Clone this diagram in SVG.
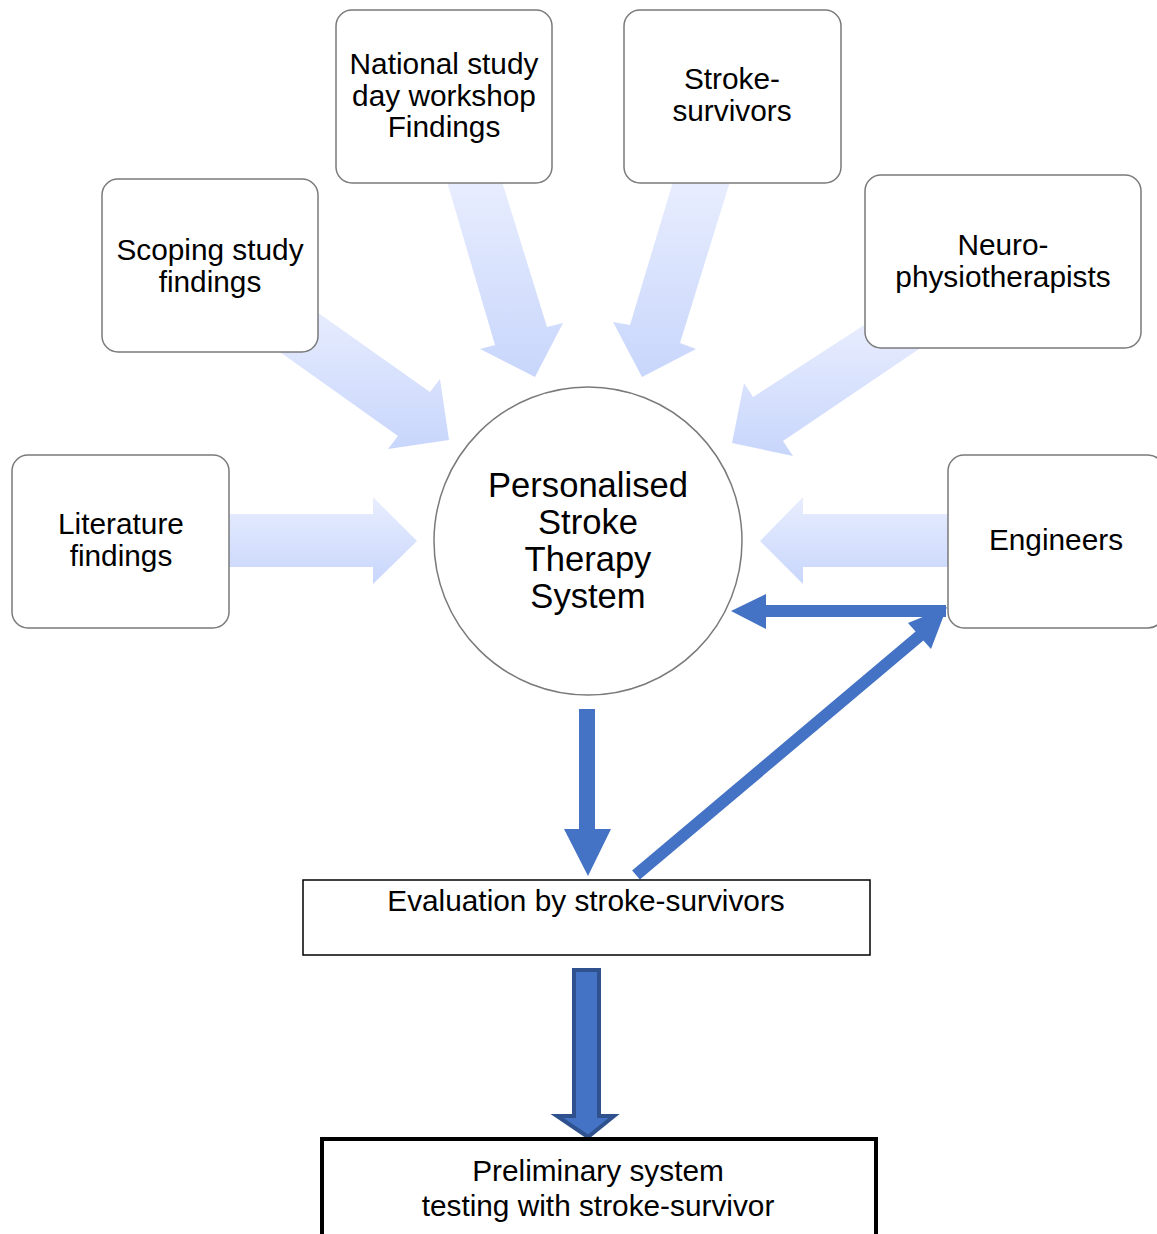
<svg xmlns="http://www.w3.org/2000/svg" width="1157" height="1234" viewBox="0 0 1157 1234">
  <style>
    .box { fill: #ffffff; stroke: #7a7a7a; stroke-width: 1.5; }
    .plain { fill: #ffffff; stroke: #000000; stroke-width: 1.5; }
    .thick { fill: #ffffff; stroke: #000000; stroke-width: 4; }
    .lbl { font-family: "Liberation Sans", Arial, sans-serif; font-size: 29.8px; fill: #000000; text-anchor: middle; }
    .big { font-size: 34.6px; }
    .soft { fill: url(#softBlue); }
    .blue { fill: #4472c4; }
  </style>
  <defs>
    <linearGradient id="softBlue" x1="0" y1="0" x2="0" y2="1">
      <stop offset="0" stop-color="#e9eefe"/>
      <stop offset="1" stop-color="#c8d6fc"/>
    </linearGradient>
  </defs>

  <!-- connectors -->
  <g id="connectors">
    <!-- Literature findings -> system -->
    <polygon class="soft" points="225,514 373,514 373,497 417,541 373,584 373,567 225,567"/>
    <!-- Engineers -> system -->
    <polygon class="soft" points="952,514 803,514 803,497 760,541 803,584 803,567 952,567"/>
    <!-- Scoping study -> system -->
    <polygon class="soft" points="300,300 430,392 440,379 449,440 388,449 398,436 270,345"/>
    <!-- National study day -> system -->
    <polygon class="soft" points="445,175 495,345 480,349 535,377 563,323 547,327 500,175"/>
    <!-- Stroke-survivors -> system -->
    <polygon class="soft" points="675,175 630,325 613,322 642,377 696,349 680,343 732,175"/>
    <!-- Neuro-physiotherapists -> system -->
    <polygon class="soft" points="875,318 753,397 744,383 732,443 793,456 783,441 925,345"/>

    <!-- system -> evaluation -->
    <polygon class="blue" points="579,709 595,709 595,829 611,829 588,876 564,829 579,829"/>
    <!-- engineers feedback -> system -->
    <polygon class="blue" points="946,605 766,605 766,594 731,611 766,629 766,617 946,617"/>
    <!-- evaluation -> engineers -->
    <polygon class="blue" points="632.1,870.5 915.6,631.5 908,623 947,607 931,649 923.4,640.5 639.9,879.5"/>
    <!-- evaluation -> preliminary testing -->
    <polygon points="574,970 599,970 599,1116 614,1116 588,1137 557,1116 574,1116" fill="#4472c4" stroke="#2f528f" stroke-width="4" stroke-linejoin="miter"/>
  </g>

  <g id="literature">
    <rect class="box" x="12" y="455" width="217" height="173" rx="16"/>
    <text class="lbl" x="121" y="534">Literature</text>
    <text class="lbl" x="121" y="566">findings</text>
  </g>

  <g id="scoping">
    <rect class="box" x="102" y="179" width="216" height="173" rx="16"/>
    <text class="lbl" x="210" y="260">Scoping study</text>
    <text class="lbl" x="210" y="292">findings</text>
  </g>

  <g id="national">
    <rect class="box" x="336" y="10" width="216" height="173" rx="16"/>
    <text class="lbl" x="444" y="74">National study</text>
    <text class="lbl" x="444" y="106">day workshop</text>
    <text class="lbl" x="444" y="137">Findings</text>
  </g>

  <g id="survivors">
    <rect class="box" x="624" y="10" width="217" height="173" rx="16"/>
    <text class="lbl" x="732" y="89">Stroke-</text>
    <text class="lbl" x="732" y="121">survivors</text>
  </g>

  <g id="neuro">
    <rect class="box" x="865" y="175" width="276" height="173" rx="16"/>
    <text class="lbl" x="1003" y="255">Neuro-</text>
    <text class="lbl" x="1003" y="287">physiotherapists</text>
  </g>

  <g id="engineers">
    <rect class="box" x="948" y="455" width="216" height="173" rx="16"/>
    <text class="lbl" x="1056" y="550">Engineers</text>
  </g>

  <g id="system">
    <circle cx="588" cy="541" r="154" fill="#ffffff" stroke="#7a7a7a" stroke-width="1.5"/>
    <text class="lbl big" x="588" y="497">Personalised</text>
    <text class="lbl big" x="588" y="534">Stroke</text>
    <text class="lbl big" x="588" y="571">Therapy</text>
    <text class="lbl big" x="588" y="608">System</text>
  </g>

  <g id="evaluation">
    <rect class="plain" x="303" y="880" width="567" height="75"/>
    <text class="lbl" x="586" y="911">Evaluation by stroke-survivors</text>
  </g>

  <g id="preliminary">
    <rect class="thick" x="322" y="1139" width="554" height="110"/>
    <text class="lbl" x="598" y="1181">Preliminary system</text>
    <text class="lbl" x="598" y="1216">testing with stroke-survivor</text>
  </g>
</svg>
